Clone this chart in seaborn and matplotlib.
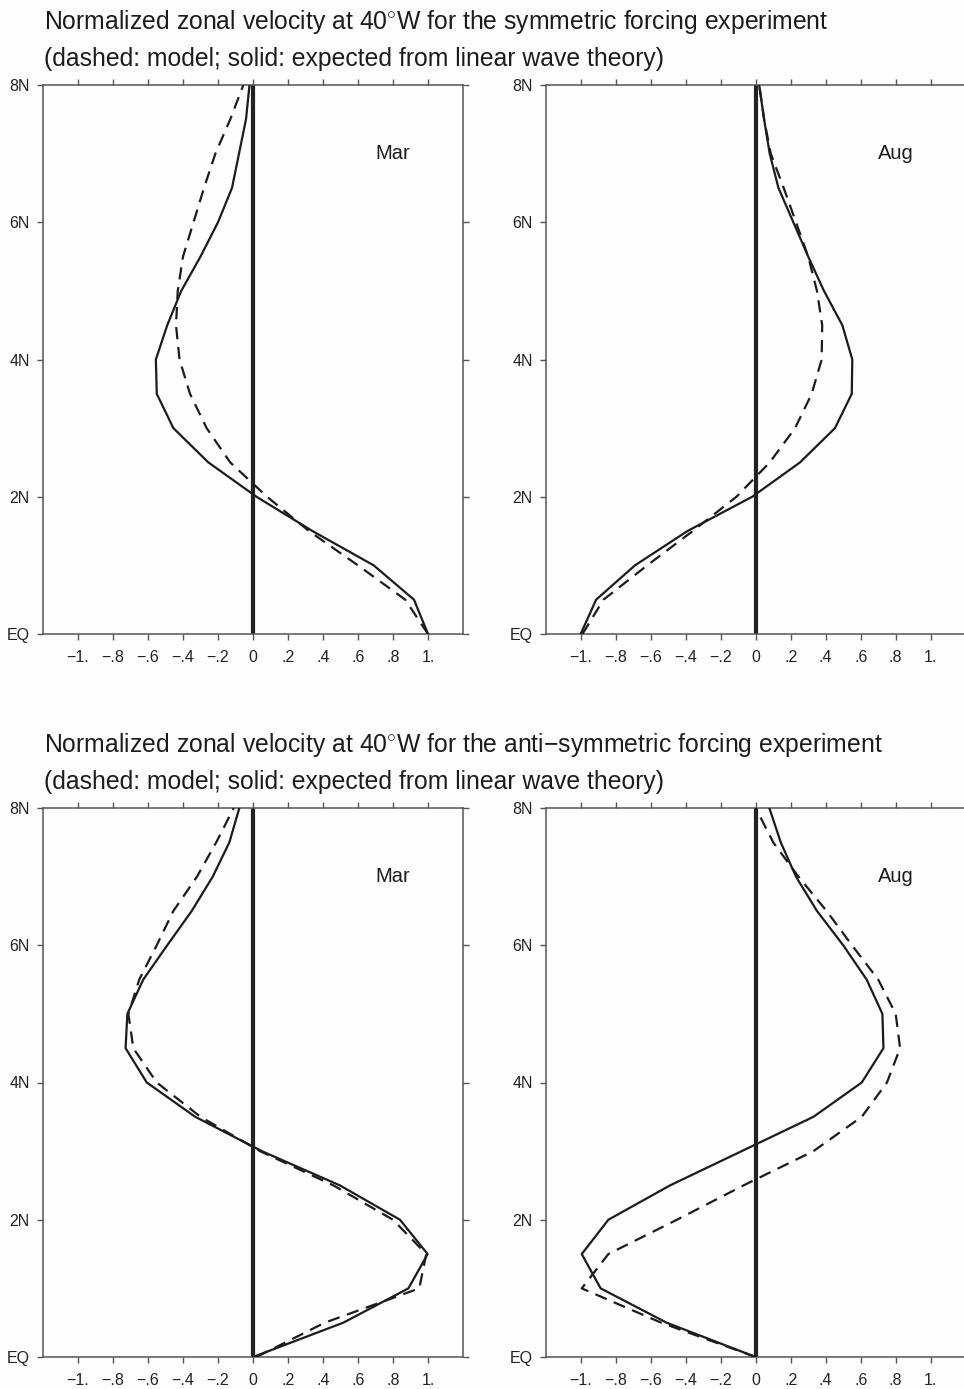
import numpy as np
import pandas as pd
import matplotlib
matplotlib.use("Agg")
import matplotlib.pyplot as plt
import seaborn as sns

# ---------------- data ----------------
lat = [0.0, 0.5, 1.0, 1.5, 2.0, 2.5, 3.0, 3.5, 4.0, 4.5, 5.0, 5.5, 6.0, 6.5, 7.0, 7.5, 8.0]

sym_mar_theory = [1.0, 0.92, 0.69, 0.34, 0.02, -0.255, -0.455, -0.55, -0.555, -0.49, -0.41, -0.30, -0.20, -0.12, -0.08, -0.04, -0.02]
sym_mar_model = [1.0, 0.87, 0.60, 0.32, 0.08, -0.13, -0.265, -0.36, -0.42, -0.44, -0.43, -0.40, -0.34, -0.28, -0.215, -0.13, -0.055]

sym_aug_theory = [-1.0, -0.912, -0.69, -0.39, -0.02, 0.253, 0.453, 0.549, 0.552, 0.495, 0.39, 0.30, 0.215, 0.13, 0.08, 0.048, 0.02]
sym_aug_model = [-0.99, -0.87, -0.62, -0.36, -0.11, 0.08, 0.225, 0.32, 0.377, 0.38, 0.35, 0.30, 0.23, 0.16, 0.086, 0.048, 0.02]

anti_mar_theory = [0.0, 0.516, 0.888, 0.998, 0.84, 0.497, 0.05, -0.33, -0.607, -0.728, -0.718, -0.627, -0.49, -0.35, -0.23, -0.135, -0.078]
anti_mar_model = [0.02, 0.41, 0.95, 0.99, 0.80, 0.46, 0.04, -0.30, -0.55, -0.684, -0.712, -0.65, -0.55, -0.455, -0.32, -0.21, -0.11]

anti_aug_theory = [0.0, -0.509, -0.886, -0.994, -0.842, -0.49, -0.08, 0.33, 0.606, 0.73, 0.724, 0.634, 0.50, 0.35, 0.23, 0.143, 0.078]
anti_aug_model = [0.0, -0.54, -0.994, -0.842, -0.45, -0.07, 0.33, 0.606, 0.75, 0.825, 0.80, 0.70, 0.55, 0.405, 0.244, 0.10, 0.0]

x_ticks = [-1.0, -0.8, -0.6, -0.4, -0.2, 0.0, 0.2, 0.4, 0.6, 0.8, 1.0]
x_ticklabels = ["\u22121.", "\u2212.8", "\u2212.6", "\u2212.4", "\u2212.2", "0", ".2", ".4", ".6", ".8", "1."]
y_ticks = [0, 2, 4, 6, 8]
y_ticklabels = ["EQ", "2N", "4N", "6N", "8N"]

titles_top = ["Normalized zonal velocity at 40$^{\\circ}$W for the symmetric forcing experiment",
              "(dashed: model; solid: expected from linear wave theory)"]
titles_bottom = ["Normalized zonal velocity at 40$^{\\circ}$W for the anti\u2212symmetric forcing experiment",
                 "(dashed: model; solid: expected from linear wave theory)"]

panels = [
    ("Mar", sym_mar_theory, sym_mar_model),
    ("Aug", sym_aug_theory, sym_aug_model),
    ("Mar", anti_mar_theory, anti_mar_model),
    ("Aug", anti_aug_theory, anti_aug_model),
]

# ---------------- style ----------------
sns.set_theme(style="ticks")
plt.rcParams["font.family"] = ["Liberation Sans", "DejaVu Sans"]
plt.rcParams["mathtext.fontset"] = "custom"
plt.rcParams["mathtext.rm"] = "Liberation Sans"

W, H = 964, 1389
fig = plt.figure(figsize=(W / 100, H / 100), dpi=100)
fig.patch.set_facecolor("#fdfdfd")

ink = "#1c1c1c"
spine_c = "#555555"

ax_w = 420 / W
ax_h = 549 / H
lefts = [43 / W, 545.7 / W]
bottoms = [1 - 634 / H, 1 - 1357 / H]

positions = [
    (lefts[0], bottoms[0]), (lefts[1], bottoms[0]),
    (lefts[0], bottoms[1]), (lefts[1], bottoms[1]),
]

for (month, theory, model), (lx, by) in zip(panels, positions):
    ax = fig.add_axes([lx, by, ax_w, ax_h])
    ax.set_facecolor("#fdfdfd")
    df = pd.DataFrame({"lat": lat, "theory": theory, "model": model})
    ax.axvline(0, color="#222222", lw=3.0, zorder=1)
    sns.lineplot(data=df, x="theory", y="lat", sort=False, estimator=None,
                 ax=ax, color=ink, lw=1.6, zorder=3)
    sns.lineplot(data=df, x="model", y="lat", sort=False, estimator=None,
                 ax=ax, color=ink, lw=1.6, linestyle=(0, (5.5, 3.5)), zorder=3)
    ax.set_xlim(-1.2, 1.2)
    ax.set_ylim(0, 8)
    ax.set_xlabel("")
    ax.set_ylabel("")
    ax.set_xticks(x_ticks)
    ax.set_xticklabels(x_ticklabels)
    ax.set_yticks(y_ticks)
    ax.set_yticklabels(y_ticklabels)
    ax.tick_params(axis="both", which="both", direction="out", length=4.5, width=1.0,
                   color=spine_c, labelsize=11.5, labelcolor="#222222", pad=5)
    ax.tick_params(axis="x", pad=7)
    ax.tick_params(top=True, right=True, labeltop=False, labelright=False)
    for s in ax.spines.values():
        s.set_visible(True)
        s.set_color(spine_c)
        s.set_linewidth(1.1)
    ax.text(0.80, 7.0, month, ha="center", va="center", fontsize=14.5, color=ink)

fx = 44 / W
fs_title = 17.8
fig.text(fx, 1 - 29 / H, titles_top[0], fontsize=fs_title, color=ink, va="baseline", ha="left")
fig.text(fx, 1 - 66 / H, titles_top[1], fontsize=fs_title, color=ink, va="baseline", ha="left")
fig.text(fx, 1 - 752 / H, titles_bottom[0], fontsize=fs_title, color=ink, va="baseline", ha="left")
fig.text(fx, 1 - 789 / H, titles_bottom[1], fontsize=fs_title, color=ink, va="baseline", ha="left")

fig.savefig("out.png", dpi=100, facecolor=fig.get_facecolor())
